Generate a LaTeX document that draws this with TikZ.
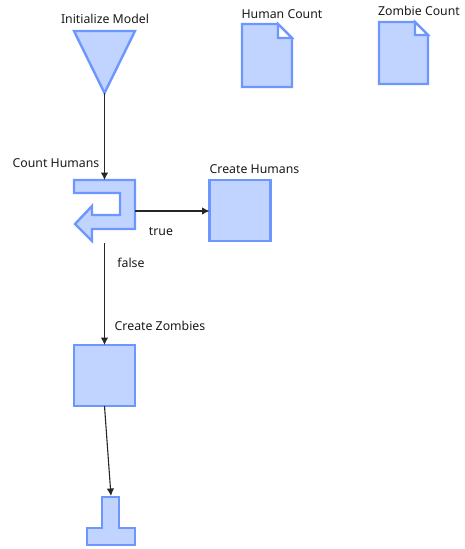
\documentclass[tikz,border=0pt]{standalone}
\usepackage{fontspec}
\setmainfont{Noto Sans}
\usetikzlibrary{arrows.meta}
\definecolor{shapefill}{HTML}{C0D4FF}
\definecolor{shapeline}{HTML}{6E96FF}
\tikzset{
	block/.style={fill=shapefill, draw=shapeline, line width=2.4pt, miter limit=4},
	activity/.style={block, rectangle, minimum size=61pt, inner sep=0pt, outer sep=0pt},
	caption/.style={font=\fontsize{12.3}{14}\selectfont, text=black!90, inner sep=0pt},
	flow/.style={draw=black!85, line width=1.1pt, -{Latex[length=7.5pt,width=7.5pt]}},
}
\begin{document}
\begin{tikzpicture}[x=1pt,y=-1pt]
		\useasboundingbox (0,0) rectangle (464,549);
		% the start triangle
		\coordinate (TL) at (74,31);
		\coordinate (TR) at (135,31);
		\coordinate (init) at (104.5,93);
		\draw[block] (TL) -- (TR) -- (init) -- cycle;
		\node[caption] (initlabel) at (105,19) {Initialize Model};
		% the two documents
		\draw[block] (242,24) -- (278,24) -- (292,38) -- (292,87) -- (242,87) -- cycle;
		\draw[block, fill=white] (278,24) -- (292,38) -- (278,38) -- cycle;
		\node[caption] (humancount) at (282,14) {Human Count};
		\draw[block] (379,22) -- (415,22) -- (428,35) -- (428,84) -- (379,84) -- cycle;
		\draw[block, fill=white] (415,22) -- (428,35) -- (415,35) -- cycle;
		\node[caption] (zombiecount) at (419,11) {Zombie Count};
		% the decision with its return arrow
		\coordinate (countin) at (104.5,180);
		\coordinate (countright) at (135,211);
		\coordinate (countout) at (104.5,243);
		\draw[block] (74,180) -- (135,180) -- (135,229) -- (92,229) -- (92,241) -- (75,224)
			-- (92,206) -- (92,215) -- (120,215) -- (120,193) -- (74,193) -- cycle;
		\node[caption] (countlabel) at (56,163) {Count Humans};
		% the activities
		\node[activity] (humans) at (240,210.5) {};
		\node[caption] (humanslabel) at (254.5,169) {Create Humans};
		\node[activity] (zombies) at (104.5,375.5) {};
		\node[caption] (zombieslabel) at (160,326) {Create Zombies};
		% the end shape
		\coordinate (stop) at (111,496);
		\draw[block] (102,497) -- (119,497) -- (119,528) -- (135,528) -- (135,545)
			-- (87,545) -- (87,528) -- (102,528) -- cycle;
		% the connectors
		\draw[flow] (init) -- (countin);
		\draw[flow] (countright) -- (humans.west |- countright);
		\draw[flow] (countout) -- (zombies.north);
		\draw[flow] (zombies.south) -- (stop);
		\node[caption] (truelabel) at (161,232) {true};
		\node[caption] (falselabel) at (131,263) {false};
	\end{tikzpicture}
\end{document}
